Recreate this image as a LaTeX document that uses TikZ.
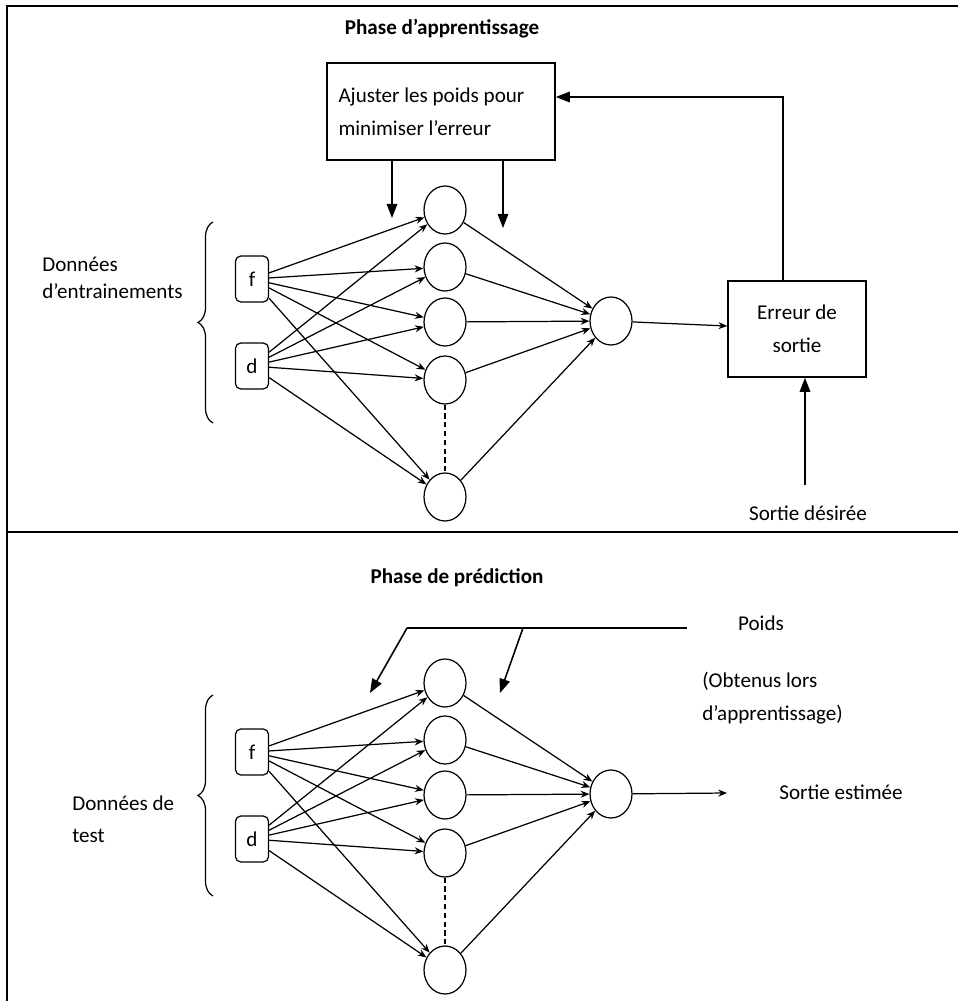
\documentclass[tikz,border=0pt]{standalone}
\usepackage{fontspec}
\setmainfont{Carlito}
\usetikzlibrary{arrows.meta,shapes.geometric,decorations.pathreplacing}

\tikzset{
    neuron/.style={draw, ellipse, minimum width=0.84cm, minimum height=0.96cm, inner sep=0pt, line width=0.7pt},
    inbox/.style={draw, rounded corners=3pt, minimum width=0.66cm, minimum height=0.92cm, inner sep=0pt, line width=0.7pt, font=\fontsize{12}{14}\selectfont},
    plainbox/.style={draw, line width=0.9pt},
    link/.style={line width=0.7pt, -{Stealth[length=5pt,width=4pt]}},
    bigarrow/.style={line width=0.9pt, -{Triangle[length=8pt,width=6pt]}},
    lbl/.style={font=\fontsize{12}{19}\selectfont, align=left, inner sep=0pt},
    ttl/.style={font=\fontsize{12}{14}\selectfont\bfseries, inner sep=0pt}
}

\begin{document}
\begin{tikzpicture}[x=0.02cm, y=-0.02cm]

        \useasboundingbox (0,0) rectangle (958,1001);

        % frame
            \draw[line width=1pt] (958,6) -- (7,6) -- (7,1001);
            \draw[line width=1pt] (7,532) -- (958,532);

        % the two networks
            \foreach \p/\dy in {a/0, b/473} {
                \node[inbox] (\p f) at (252,279+\dy) {f};
                \node[inbox] (\p d) at (252,366+\dy) {d};
                \foreach \i/\y in {1/210, 2/267, 3/322, 4/380, 5/497}
                    \node[neuron] (\p h\i) at (445,\y+\dy) {};
                \node[neuron] (\p o) at (611,321+\dy) {};
                \foreach \i in {1,...,5} {
                    \draw[link] (\p f) -- (\p h\i);
                    \draw[link] (\p d) -- (\p h\i);
                    \draw[link] (\p h\i) -- (\p o);
                }
                \draw[densely dashed, line width=0.7pt] (\p h4) -- (\p h5);
                \draw[line width=0.7pt, decorate, decoration={brace, amplitude=0.3cm}] (213,423+\dy) -- (213,222+\dy);
            }

        % learning phase
            \node[ttl] (t1) at (442,29) {Phase d’apprentissage};
            \node[lbl, plainbox, align=flush left, text width=4.1cm, inner xsep=0.23cm, minimum height=1.94cm] (adj) at (441,111.5) {Ajuster les poids pour\\minimiser l’erreur};
            \node[lbl, plainbox, align=center, minimum width=2.76cm, minimum height=1.92cm] (err) at (797,329) {Erreur de\\sortie};
            \node[lbl, font=\fontsize{12}{15.5}\selectfont, anchor=west] (tr) at (42,278) {Données\\d’entrainements};
            \node[lbl] (des) at (808,513) {Sortie désirée};
            \coordinate (w1) at (392,218);
            \coordinate (w2) at (503,228);
            \coordinate (d0) at (805,485);
            \draw[link] (ao) -- (err);
            \draw[bigarrow] ([xshift=-0.28cm]err.north) |- ([yshift=0.29cm]adj.east);
            \draw[bigarrow] (adj.south -| w1) -- (w1);
            \draw[bigarrow] (adj.south -| w2) -- (w2);
            \draw[bigarrow] (d0) -- (d0 |- err.south);

        % prediction phase
            \node[ttl] (t2) at (457,578) {Phase de prédiction};
            \coordinate (p1) at (407,628);
            \coordinate (p2) at (687,628);
            \coordinate (p3) at (523,628);
            \coordinate (q1) at (370,693);
            \coordinate (q2) at (500,693);
            \coordinate (e) at (727,793);
            \draw[line width=0.9pt] (p1) -- (p2);
            \draw[bigarrow] (p1) -- (q1);
            \draw[bigarrow] (p3) -- (q2);
            \node[lbl] (poids) at (761,623) {Poids};
            \node[lbl, anchor=west] (obt) at (702,698) {(Obtenus lors\\d’apprentissage)};
            \draw[link] (bo) -- (e);
            \node[lbl] (est) at (841,792) {Sortie estimée};
            \node[lbl, font=\fontsize{12}{18}\selectfont, anchor=west] (tst) at (72,819) {Données de\\test};
        \end{tikzpicture}
\end{document}
